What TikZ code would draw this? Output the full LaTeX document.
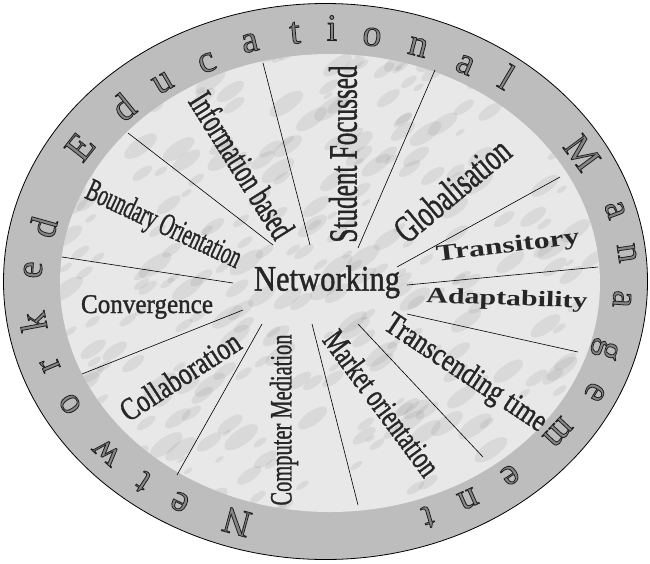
\documentclass[tikz,border=0pt]{standalone}
\usepackage{fontspec}
\setmainfont{Liberation Serif}
\newfontfamily\wordart[FakeBold=1.3]{Liberation Serif}
\usepackage{graphicx}

\tikzset{
  spoke/.style={black, line width=0.6pt},
  ring letter/.style={font=\fontsize{38}{38}\selectfont, text=black!48, inner sep=0pt},
  spoke label/.style={text=black!85, inner sep=0pt},
}
\newcommand{\squeeze}[2]{\scalebox{#1}[1]{#2}}
\newcommand{\outlined}[1]{\special{pdf:literal direct 2 Tr 0.8 w 0.12 G}#1\special{pdf:literal direct 0 Tr}}

\begin{document}
\begin{tikzpicture}[x=1pt, y=-1pt]
    \useasboundingbox (0,0) rectangle (650,563);

    %% outer ring
    \filldraw[fill=black!26, draw=black, line width=0.8pt]
        (325.5,281.5) ellipse [x radius=322, y radius=278];

    %% marble disc
    \fill[black!9] (330,283) ellipse [x radius=270, y radius=229];
    \begin{scope}
      \clip (330,283) ellipse [x radius=270, y radius=229];
      \pgfmathsetseed{11}
      \foreach \k in {1,...,320} {
        \pgfmathsetmacro{\mx}{60+540*rnd}
        \pgfmathsetmacro{\my}{54+458*rnd}
        \pgfmathsetmacro{\mr}{2+6*rnd}
        \fill[black!55, opacity=0.12, rotate around={35:(\mx,\my)}]
            (\mx,\my) ellipse [x radius=2.5*\mr, y radius=\mr];
      }
    \end{scope}

    %% spokes
    \foreach \n/\xi/\yi/\xo/\yo in {1/233/283/62/257, 2/273/245/128/133,
        3/310/245/263/63, 4/358/248/435/70, 5/397/267/560/177,
        6/407/285/598/267, 7/407/314/578/352, 8/358/324/483/457,
        9/312/324/358/505, 10/262/324/177/475, 11/243/310/82/374} {
      \coordinate (hub\n) at (\xi,\yi);
      \coordinate (rim\n) at (\xo,\yo);
      \draw[spoke] (hub\n) -- (rim\n);
    }

    %% labels
    \node[spoke label, font=\fontsize{36}{36}\wordart] (networking) at (327,282) {\squeeze{0.85}{Networking}};
    \node[spoke label, rotate=-25, font=\fontsize{32}{32}\wordart] (boundary) at (163,226) {\squeeze{0.6}{Boundary Orientation}};
    \node[spoke label, rotate=-58, font=\fontsize{36}{36}\wordart] (information) at (242,165) {\squeeze{0.63}{Information based}};
    \node[spoke label, rotate=90, font=\fontsize{40}{40}\wordart] (student) at (343,154) {\squeeze{0.63}{Student Focussed}};
    \node[spoke label, rotate=40, font=\fontsize{38}{38}\wordart] (global) at (452,190) {\squeeze{0.68}{Globalisation}};
    \node[spoke label, rotate=7, font=\fontsize{23}{23}\selectfont\bfseries] (transitory) at (508,247) {\squeeze{1.38}{Transitory}};
    \node[spoke label, rotate=-2, font=\fontsize{22}{22}\selectfont\bfseries] (adapt) at (507,300) {\squeeze{1.36}{Adaptability}};
    \node[spoke label, rotate=-33.5, font=\fontsize{32}{32}\wordart] (transcend) at (465,374) {\squeeze{0.79}{Transcending time}};
    \node[spoke label, rotate=-53.5, font=\fontsize{33}{33}\wordart] (market) at (382,403) {\squeeze{0.7}{Market orientation}};
    \node[spoke label, rotate=90, font=\fontsize{31}{31}\wordart] (computer) at (284,420) {\squeeze{0.66}{Computer Mediation}};
    \node[spoke label, rotate=33, font=\fontsize{32}{32}\wordart] (collab) at (180,376) {\squeeze{0.78}{Collaboration}};
    \node[spoke label, font=\fontsize{27}{27}\wordart] (converge) at (147,307) {\squeeze{0.93}{Convergence}};

    %% ring text
    \foreach \ch/\x/\y [count=\i] in {N/237/522, e/180/502, t/143/482, w/107/452,
        o/70/404, r/50/365, k/33/322, e/33/270, d/43/227, E/80/147, d/123/107,
        u/163/83, c/207/63, a/250/43, t/295/33, i/332/28, o/372/37, n/418/47,
        a/465/65, l/507/77, M/582/153, a/615/210, n/627/253, a/622/299,
        g/605/349, e/595/392, m/558/432, e/510/475, n/468/499, t/428/517} {
      \pgfmathsetmacro{\rot}{atan2((283-\y)/6.25,(\x-330)/9)-90}
      \node[ring letter, rotate=\rot] (ring\i) at (\x,\y) {\outlined{\ch}};
    }

\end{tikzpicture}
\end{document}
